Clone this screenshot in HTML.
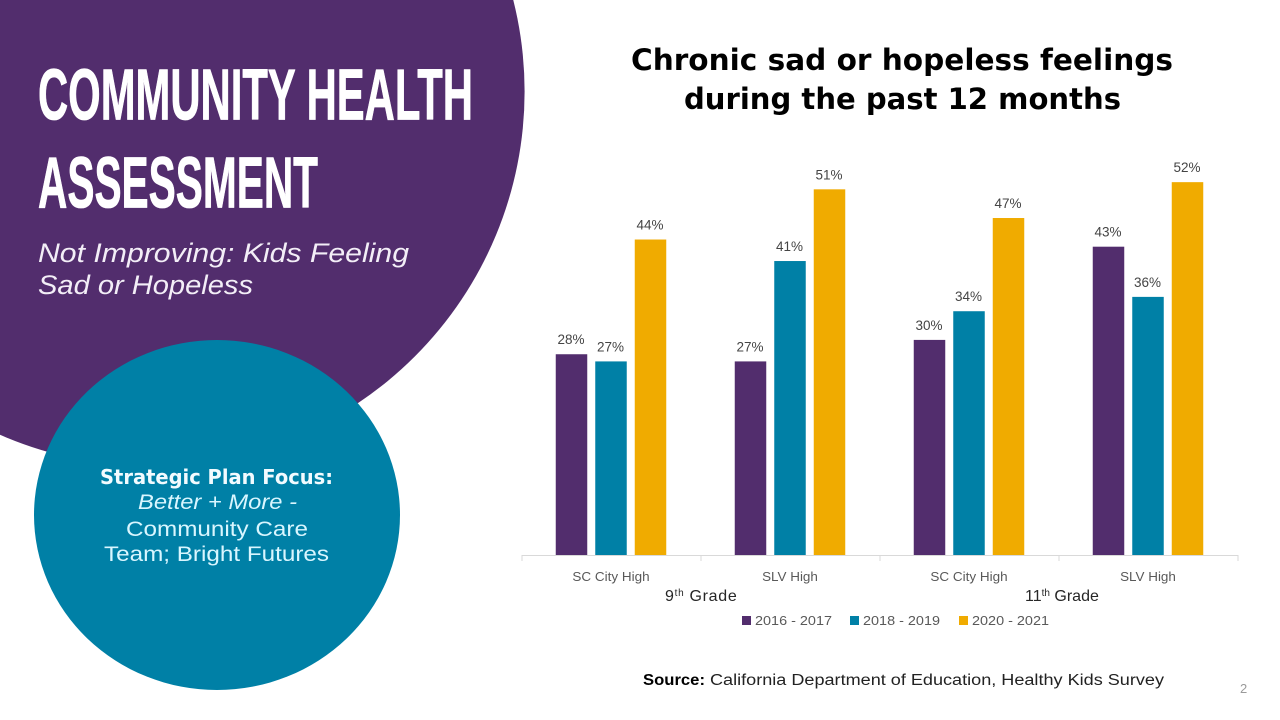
<!DOCTYPE html>
<html lang="en">
<head>
<meta charset="utf-8">
<title>Community Health Assessment</title>
<style>
html,body{margin:0;padding:0;background:#fff;width:1280px;height:720px;overflow:hidden}
svg{display:block}
text{font-family:"Liberation Sans",sans-serif}
.mont{font-family:"DejaVu Sans","Liberation Sans",sans-serif}
</style>
</head>
<body>
<svg id="slide" width="1280" height="720" viewBox="0 0 1280 720" xmlns="http://www.w3.org/2000/svg">
  <rect width="1280" height="720" fill="#ffffff"/>
  <circle cx="150" cy="91.5" r="374.6" fill="#522d6d"/>
  <ellipse cx="217" cy="515" rx="183" ry="175" fill="#0080a6"/>

  <text x="38" y="119.5" font-size="72" font-weight="700" fill="#fff" stroke="#fff" stroke-width="0.8" stroke-linejoin="round" textLength="435" lengthAdjust="spacingAndGlyphs">COMMUNITY HEALTH</text>
  <text x="38" y="207.5" font-size="72" font-weight="700" fill="#fff" stroke="#fff" stroke-width="0.8" stroke-linejoin="round" textLength="280" lengthAdjust="spacingAndGlyphs">ASSESSMENT</text>
  <text x="38" y="262" font-size="27" font-style="italic" fill="#f3eef7" textLength="371" lengthAdjust="spacingAndGlyphs">Not Improving: Kids Feeling</text>
  <text x="38" y="294" font-size="27" font-style="italic" fill="#f3eef7" textLength="215" lengthAdjust="spacingAndGlyphs">Sad or Hopeless</text>

  <text class="mont" x="100" y="484" font-size="20" font-weight="700" fill="#f2fbff" textLength="233" lengthAdjust="spacingAndGlyphs">Strategic Plan Focus:</text>
  <text x="138" y="509" font-size="21" font-style="italic" fill="#d9f6ff" textLength="159" lengthAdjust="spacingAndGlyphs">Better + More -</text>
  <text x="126" y="536" font-size="21" fill="#d9f6ff" textLength="182" lengthAdjust="spacingAndGlyphs">Community Care</text>
  <text x="104" y="561" font-size="21" fill="#d9f6ff" textLength="225" lengthAdjust="spacingAndGlyphs">Team; Bright Futures</text>

  <text class="mont" x="631" y="70" font-size="29" font-weight="700" fill="#000" textLength="542" lengthAdjust="spacingAndGlyphs">Chronic sad or hopeless feelings</text>
  <text class="mont" x="684" y="109" font-size="29" font-weight="700" fill="#000" textLength="437" lengthAdjust="spacingAndGlyphs">during the past 12 months</text>

  <g id="chart"></g>

  <text x="665" y="601" font-size="16" fill="#262626" letter-spacing="0.7">9<tspan font-size="10" dy="-5">th</tspan><tspan dy="5"> Grade</tspan></text>
  <text x="1025" y="601" font-size="16" fill="#262626">11<tspan font-size="10" dy="-5">th</tspan><tspan dy="5"> Grade</tspan></text>

  <text x="643" y="685" font-size="15.5" font-weight="700" fill="#000" textLength="62" lengthAdjust="spacingAndGlyphs">Source:</text>
  <text x="710" y="685" font-size="15.5" fill="#222" textLength="454" lengthAdjust="spacingAndGlyphs">California Department of Education, Healthy Kids Survey</text>
  <text x="1240" y="693" font-size="13" fill="#9a9a9a">2</text>
</svg>
<script>
var categories = ["SC City High", "SLV High", "SC City High", "SLV High"];
var seriesNames = ["2016 - 2017", "2018 - 2019", "2020 - 2021"];
var values2016 = [28, 27, 30, 43];
var values2018 = [27, 41, 34, 36];
var values2020 = [44, 51, 47, 52];

var seriesValues = [values2016, values2018, values2020];
var seriesColors = ["#522d6d", "#0080a6", "#f0ab00"];
var NS = "http://www.w3.org/2000/svg";
var chart = document.getElementById("chart");
var plotLeft = 522, plotRight = 1238, baseY = 555, pxPerPct = 7.17;
var barW = 31.5, barStep = 39.5;

function xBand(i) { return plotLeft + (plotRight - plotLeft) * i / categories.length; }
function xCenter(i) { return xBand(i) + (plotRight - plotLeft) / categories.length / 2 - 0.5; }
function yScale(v) { return baseY - v * pxPerPct; }
function make(tag, attrs, txt) {
  var el = document.createElementNS(NS, tag);
  for (var k in attrs) el.setAttribute(k, attrs[k]);
  if (txt !== undefined) el.textContent = txt;
  chart.appendChild(el);
  return el;
}

seriesValues.forEach(function (vals, s) {
  vals.forEach(function (v, c) {
    var cx = xCenter(c) + (s - 1) * barStep;
    var bar = make("rect", { x: cx - barW / 2, y: yScale(v), width: barW, height: baseY - yScale(v), fill: seriesColors[s] });
    
    
    var lab = make("text", { x: cx - 0.5, y: yScale(v) - 10, "font-size": 13.5, fill: "#444", "text-anchor": "middle" }, v + "%");
    
    
  });
});

var axis = make("line", { x1: plotLeft, x2: plotRight, y1: baseY + 0.5, y2: baseY + 0.5, stroke: "#d9d9d9", "stroke-width": 1 });



for (var t = 0; t <= categories.length; t++) {
  var tick = make("line", { x1: xBand(t), x2: xBand(t), y1: baseY, y2: baseY + 6, stroke: "#d9d9d9", "stroke-width": 1 });
  
  
}

categories.forEach(function (name, c) {
  var lab = make("text", { x: xCenter(c), y: 581, "font-size": 13, fill: "#595959", "text-anchor": "middle", textLength: name.length * 6.6 + (name.length > 8 ? -2 : 3), lengthAdjust: "spacingAndGlyphs" }, name);
  
  
});

var legendX = [742, 850, 959];
seriesNames.forEach(function (name, s) {
  var sw = make("rect", { x: legendX[s], y: 616, width: 9, height: 9, fill: seriesColors[s] });
  
  
  var lab = make("text", { x: legendX[s] + 13, y: 625, "font-size": 13, fill: "#595959", textLength: 77, lengthAdjust: "spacingAndGlyphs" }, name);
  
  
});
</script>
</body>
</html>
